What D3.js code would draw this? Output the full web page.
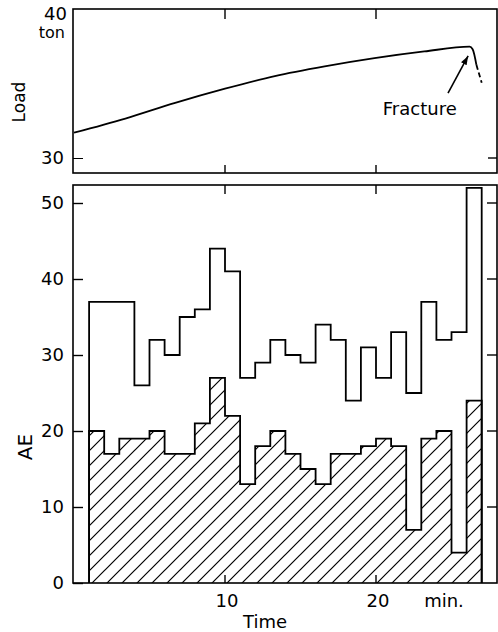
<!DOCTYPE html>
<html>
<head>
<meta charset="utf-8">
<script src="https://cdn.jsdelivr.net/npm/d3@7"></script>
<style>
  body { margin: 0; background: #fff; }
  svg { display: block; }
  text { font-family: "DejaVu Sans", sans-serif; fill: #000; }
</style>
</head>
<body>
<div id="chart"></div>
<script>
// Load curve (top panel)
const loadTime = [0, 3.4, 6.7, 10, 13.3, 16.6, 19.9, 23.2, 26.2, 26.4, 26.65];
const loadValue = [31.7, 32.65, 33.7, 34.65, 35.5, 36.15, 36.7, 37.15, 37.47, 37.3, 36.25];
const dropTime = [26.65, 27.0];
const dropValue = [36.25, 35.05];

// AE counts per minute (bottom panel), bins start at minute 1
const binStart = [1, 2, 3, 4, 5, 6, 7, 8, 9, 10, 11, 12, 13, 14, 15, 16, 17, 18, 19, 20, 21, 22, 23, 24, 25, 26];
const aeTotal = [37, 37, 37, 26, 32, 30, 35, 36, 44, 41, 27, 29, 32, 30, 29, 34, 32, 24, 31, 27, 33, 25, 37, 32, 33, 52];
const aeHatched = [20, 17, 19, 19, 20, 17, 17, 21, 27, 22, 13, 18, 20, 17, 15, 13, 17, 17, 18, 19, 18, 7, 19, 20, 4, 24];

const loadTicks = [30, 40];
const aeTicks = [0, 10, 20, 30, 40, 50];
const timeTicks = [10, 20];

const W = 498, H = 632;
const left = 73, right = 497;
const topBox = { y0: 9, y1: 173 };
const botBox = { y0: 185, y1: 583 };

const svg = d3.select("#chart").append("svg")
    .attr("width", W)
    .attr("height", H);

const x = d3.scaleLinear().domain([0, 20]).range([74, 376]);
const yLoad = d3.scaleLinear().domain([30, 40]).range([158, 9]);
const yAE = d3.scaleLinear().domain([0, 50]).range([583, 203]);

// hatch pattern
const defs = svg.append("defs");
defs.append("pattern")
    .attr("id", "hatch")
    .attr("patternUnits", "userSpaceOnUse")
    .attr("width", 15)
    .attr("height", 15)
    .append("path")
    .attr("d", "M0,15 L15,0 M-4,4 L4,-4 M11,19 L19,11")
    .attr("stroke", "#000")
    .attr("stroke-width", 1.2);

defs.append("marker")
    .attr("id", "arrow")
    .attr("viewBox", "0 0 10 10")
    .attr("refX", 10)
    .attr("refY", 5)
    .attr("markerWidth", 9)
    .attr("markerHeight", 9)
    .attr("markerUnits", "userSpaceOnUse")
    .attr("orient", "auto")
    .append("path")
    .attr("d", "M0,1.5 L10,5 L0,8.5 Z")
    .attr("fill", "#000");

// frames
[topBox, botBox].forEach(b => {
    svg.append("rect")
        .attr("x", left)
        .attr("y", b.y0)
        .attr("width", right - left)
        .attr("height", b.y1 - b.y0)
        .attr("fill", "none")
        .attr("stroke", "#000")
        .attr("stroke-width", 1.6);
});

// ---- top panel ----
const gTopAxis = svg.append("g")
    .attr("transform", `translate(${left},0)`)
    .call(d3.axisLeft(yLoad).tickValues([30]).tickSize(-10).tickPadding(9).tickFormat(d3.format("d")));
gTopAxis.select(".domain").remove();
gTopAxis.selectAll("text").style("font-size", "18px");

svg.append("text")
    .attr("x", 67).attr("y", 20)
    .attr("text-anchor", "end")
    .style("font-size", "18px")
    .text("40");
svg.append("text")
    .attr("x", 65).attr("y", 38)
    .attr("text-anchor", "end")
    .style("font-size", "16px")
    .text("ton");

svg.append("text")
    .attr("transform", "translate(25,102) rotate(-90)")
    .attr("text-anchor", "middle")
    .style("font-size", "17px")
    .text("Load");

// right ticks top panel
svg.selectAll(".rtTop").data([30]).enter().append("line")
    .attr("x1", right - 9).attr("x2", right)
    .attr("y1", d => yLoad(d)).attr("y2", d => yLoad(d))
    .attr("stroke", "#000").attr("stroke-width", 1.4);

// time ticks on both panels (inward)
timeTicks.forEach(t => {
    svg.append("line").attr("x1", x(t)).attr("x2", x(t))
        .attr("y1", topBox.y0).attr("y2", topBox.y0 + 10)
        .attr("stroke", "#000").attr("stroke-width", 1.4);
    svg.append("line").attr("x1", x(t)).attr("x2", x(t))
        .attr("y1", topBox.y1 - 8).attr("y2", topBox.y1)
        .attr("stroke", "#000").attr("stroke-width", 1.4);
    svg.append("line").attr("x1", x(t)).attr("x2", x(t))
        .attr("y1", botBox.y0).attr("y2", botBox.y0 + 9)
        .attr("stroke", "#000").attr("stroke-width", 1.4);
    svg.append("line").attr("x1", x(t)).attr("x2", x(t))
        .attr("y1", botBox.y1 - 8).attr("y2", botBox.y1)
        .attr("stroke", "#000").attr("stroke-width", 1.4);
});

const loadPts = loadTime.map((t, i) => [t, loadValue[i]]);
svg.append("path")
    .datum(loadPts)
    .attr("d", d3.line().x(d => x(d[0])).y(d => yLoad(d[1])).curve(d3.curveMonotoneX))
    .attr("fill", "none")
    .attr("stroke", "#000")
    .attr("stroke-width", 1.8);

svg.append("path")
    .datum(dropTime.map((t, i) => [t, dropValue[i]]))
    .attr("d", d3.line().x(d => x(d[0])).y(d => yLoad(d[1])))
    .attr("fill", "none")
    .attr("stroke", "#000")
    .attr("stroke-width", 1.8)
    .attr("stroke-dasharray", "5,3");

// fracture annotation
svg.append("line")
    .attr("x1", x(24.77)).attr("y1", yLoad(34.36))
    .attr("x2", x(26.1)).attr("y2", yLoad(36.85))
    .attr("stroke", "#000")
    .attr("stroke-width", 1.6)
    .attr("marker-end", "url(#arrow)");

svg.append("text")
    .attr("x", x(22.9)).attr("y", yLoad(30) - 43)
    .attr("text-anchor", "middle")
    .style("font-size", "18px")
    .text("Fracture");

// ---- bottom panel ----
const gAE = svg.append("g")
    .attr("transform", `translate(${left},0)`)
    .call(d3.axisLeft(yAE).tickValues(aeTicks).tickSize(-10).tickPadding(9).tickFormat(d3.format("d")));
gAE.select(".domain").remove();
gAE.selectAll("line").attr("stroke-width", 1.4);
gAE.selectAll("text").style("font-size", "18px");

svg.selectAll(".rtBot").data(aeTicks.filter(d => d > 0)).enter().append("line")
    .attr("x1", right - 10).attr("x2", right)
    .attr("y1", d => yAE(d)).attr("y2", d => yAE(d))
    .attr("stroke", "#000").attr("stroke-width", 1.4);

svg.append("text")
    .attr("transform", "translate(32,447) rotate(-90)")
    .attr("text-anchor", "middle")
    .style("font-size", "20px")
    .text("AE");

// step series
function stepPoints(vals) {
    const pts = [[binStart[0], 0]];
    binStart.forEach((t, i) => pts.push([t, vals[i]]));
    const last = binStart[binStart.length - 1] + 1;
    pts.push([last, vals[vals.length - 1]]);
    pts.push([last, 0]);
    return pts;
}

const hatchPts = stepPoints(aeHatched);
svg.append("path")
    .datum(hatchPts)
    .attr("d", d3.area().x(d => x(d[0])).y0(yAE(0)).y1(d => yAE(d[1])).curve(d3.curveStepAfter))
    .attr("fill", "url(#hatch)");

const stepLine = d3.line().x(d => x(d[0])).y(d => yAE(d[1])).curve(d3.curveStepAfter);

svg.append("path")
    .datum(hatchPts)
    .attr("d", stepLine)
    .attr("fill", "none")
    .attr("stroke", "#000")
    .attr("stroke-width", 1.8);

svg.append("path")
    .datum(stepPoints(aeTotal))
    .attr("d", stepLine)
    .attr("fill", "none")
    .attr("stroke", "#000")
    .attr("stroke-width", 1.8);

// x labels
svg.selectAll(".xl").data(timeTicks).enter().append("text")
    .attr("x", d => x(d) + 2)
    .attr("y", 607)
    .attr("text-anchor", "middle")
    .style("font-size", "18px")
    .text(d => d);

svg.append("text")
    .attr("x", 444).attr("y", 607)
    .attr("text-anchor", "middle")
    .style("font-size", "18px")
    .text("min.");

svg.append("text")
    .attr("x", 265).attr("y", 628)
    .attr("text-anchor", "middle")
    .style("font-size", "18px")
    .text("Time");
</script>
</body>
</html>
